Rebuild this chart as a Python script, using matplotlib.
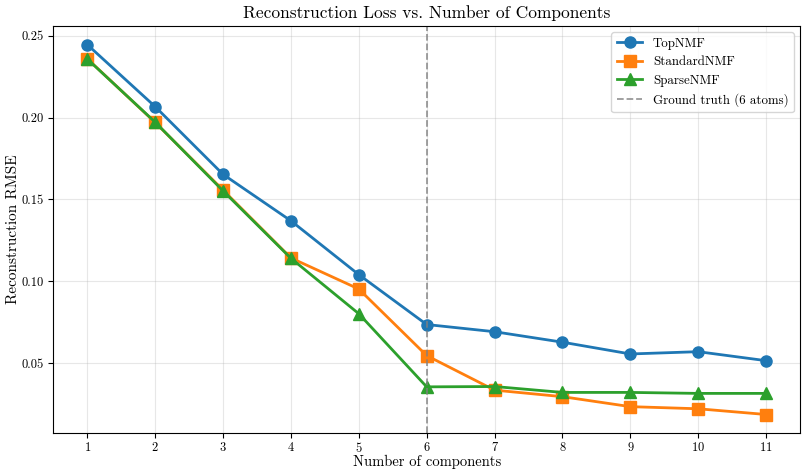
import numpy as np
import matplotlib.pyplot as plt

plt.rcParams['font.family'] = ['cmr10', 'DejaVu Serif']
plt.rcParams['mathtext.fontset'] = 'cm'
plt.rcParams['axes.unicode_minus'] = False
plt.rcParams['axes.formatter.use_mathtext'] = True

# RMSE for each number of components
n_components = [1, 2, 3, 4, 5, 6, 7, 8, 9, 10, 11]
top_nmf = [0.2446, 0.2067, 0.1653, 0.1369, 0.1040, 0.0735, 0.0691, 0.0627, 0.0555, 0.0569, 0.0514]
standard_nmf = [0.2360, 0.1970, 0.1557, 0.1142, 0.0952, 0.0545, 0.0334, 0.0294, 0.0233, 0.0220, 0.0185]
sparse_nmf = [0.2358, 0.1972, 0.1552, 0.1140, 0.0801, 0.0354, 0.0356, 0.0320, 0.0320, 0.0314, 0.0314]
true_atoms = 6

fig = plt.figure(figsize=(8.03, 4.72), dpi=100)
ax = fig.add_axes([0.0664, 0.083, 0.9299, 0.862])

ax.plot(n_components, top_nmf, '-o', color='#1f77b4', lw=2, ms=8, label='TopNMF')
ax.plot(n_components, standard_nmf, '-s', color='#ff7f0e', lw=2, ms=8, label='StandardNMF')
ax.plot(n_components, sparse_nmf, '-^', color='#2ca02c', lw=2, ms=8, label='SparseNMF')
ax.axvline(true_atoms, color='gray', ls='--', lw=1.3, alpha=0.8, label='Ground truth (6 atoms)')

ax.set_xlim(0.5, 11.5)
ax.set_ylim(0.0073, 0.256)
ax.set_xticks(n_components)
ax.set_yticks([0.05, 0.10, 0.15, 0.20, 0.25])
ax.set_yticklabels(['0.05', '0.10', '0.15', '0.20', '0.25'])
ax.tick_params(labelsize=9)
ax.tick_params(axis='x', pad=2.5)
ax.grid(True, alpha=0.3)

ax.set_xlabel('Number of components', fontsize=10.5, labelpad=0)
ax.set_ylabel('Reconstruction RMSE', fontsize=11, labelpad=1)
ax.set_title('Reconstruction Loss vs. Number of Components', fontsize=12.5)
ax.legend(loc='upper right', fontsize=9.3)

fig.savefig('out.png', dpi=100)
